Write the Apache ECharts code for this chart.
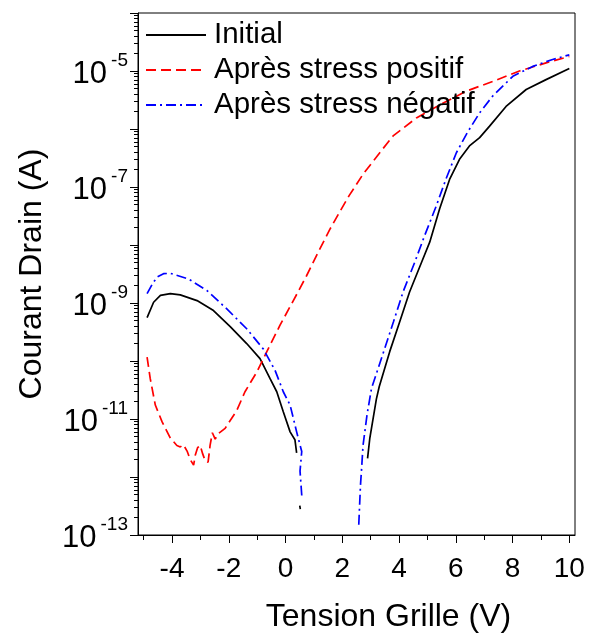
<!DOCTYPE html>
<html>
<head>
<meta charset="utf-8">
<script src="https://cdn.jsdelivr.net/npm/echarts@6/dist/echarts.min.js"></script>
<style>
  html, body { margin: 0; padding: 0; background: #fff; }
  #chart { width: 595px; height: 638px; }
</style>
</head>
<body>
<div id="chart"></div>
<script>
// gate voltage (V) / drain current (A), '-' breaks the line
const initialVg = [-4.88, -4.65, -4.41, -4.06, -3.71, -3.12, -2.54, -1.95, -1.37, -0.90, -0.55, -0.31, -0.08, 0.16, 0.33, 0.39, 0.45,
  0.50, 0.52, 0.60,
  2.89, 2.97, 3.20, 3.30, 3.67, 4.02, 4.37, 4.79, 5.08, 5.43, 5.78, 6.13, 6.48, 6.84, 7.19, 7.77, 8.48, 9.18, 10.0];
const initialId = [5.6e-10, 1.03e-9, 1.35e-9, 1.45e-9, 1.38e-9, 1.1e-9, 7.4e-10, 3.9e-10, 2.0e-10, 1.1e-10, 5.0e-11, 2.95e-11, 1.33e-11, 6.0e-12, 4.4e-12, 2.6e-12, '-',
  3.2e-13, 2.8e-13, '-',
  2.1e-12, 4.7e-12, 2.2e-11, 3.6e-11, 1.45e-10, 4.7e-10, 1.55e-9, 5.0e-9, 1.12e-8, 4.2e-8, 1.35e-7, 3.0e-7, 5.1e-7, 7.1e-7, 1.12e-6, 2.45e-6, 4.8e-6, 7.1e-6, 1.1e-5];

const positifVg = [-4.88, -4.77, -4.59, -4.35, -4.06, -3.83, -3.71, -3.60, -3.47, -3.36, -3.24, -3.18, -3.10, -3.01, -2.92, -2.83, -2.73, -2.66, -2.58, -2.48, -2.37,
  -2.13, -1.72, -1.43, -1.01, -0.66, -0.20, 0.39, 0.74, 1.15, 1.56, 1.97, 2.24, 2.73, 3.32, 3.79, 4.61, 5.43, 6.37, 7.30, 8.24, 9.18, 10.0];
const positifId = [1.17e-10, 5.0e-11, 1.74e-11, 8.9e-12, 4.7e-12, 3.5e-12, 3.3e-12, 3.6e-12, 2.8e-12, 2.0e-12, 1.6e-12, 2.4e-12, 3.2e-12, 3.5e-12, 2.5e-12, 1.9e-12, 1.8e-12, 3.5e-12, 5.8e-12, 4.5e-12, 5.6e-12,
  6.9e-12, 1.4e-11, 2.95e-11, 6.5e-11, 1.45e-10, 4.1e-10, 1.4e-9, 2.95e-9, 7.5e-9, 1.86e-8, 4.2e-8, 7.1e-8, 1.66e-7, 3.9e-7, 7.6e-7, 1.55e-6, 2.6e-6, 4.5e-6, 6.6e-6, 1.0e-5, 1.38e-5, 1.78e-5];

const negatifVg = [-4.88, -4.70, -4.53, -4.30, -4.06, -3.42, -2.77, -2.07, -1.37, -0.78, -0.37, -0.08, 0.16, 0.39, 0.57, 0.51, 0.57, 0.57, 1.0,
  2.58, 2.64, 2.68, 2.73, 2.87, 3.03, 3.26, 3.80, 4.14, 4.55, 4.90, 5.31, 5.66, 6.02, 6.42, 6.84, 7.30, 8.01, 8.71, 9.41, 10.0];
const negatifId = [1.45e-9, 2.1e-9, 2.8e-9, 3.2e-9, 3.25e-9, 2.6e-9, 1.64e-9, 7.9e-10, 3.6e-10, 1.6e-10, 6.9e-11, 2.95e-11, 1.74e-11, 6.0e-12, 2.75e-12, 1.26e-12, 4.9e-13, 4.2e-13, '-',
  1.5e-13, 7.2e-13, 1.4e-12, 3.5e-12, 1.17e-11, 3.4e-11, 7.4e-11, 4.7e-10, 1.55e-9, 5.0e-9, 1.45e-8, 4.7e-8, 1.4e-7, 3.9e-7, 8.9e-7, 1.9e-6, 3.7e-6, 8.1e-6, 1.2e-5, 1.58e-5, 1.9e-5];

const seriesNames = ['Initial', 'Après stress positif', 'Après stress négatif'];

const xMajor = [-4, -2, 0, 2, 4, 6, 8, 10];
const xMinor = [-5, -3, -1, 1, 3, 5, 7, 9];
const yLabelExp = [-13, -11, -9, -7, -5];
const yDecadeExp = [-13, -12, -11, -10, -9, -8, -7, -6, -5, -4];

const pairs = (xs, ys) => xs.map((x, i) => [x, ys[i]]);

const yMajorVals = yDecadeExp.map(e => Math.pow(10, e));
const yMinorVals = [];
yDecadeExp.slice(0, -1).forEach(e => {
  for (let k = 2; k <= 9; k++) yMinorVals.push(k * Math.pow(10, e));
});

const font = 'Liberation Sans, Arial, sans-serif';
const chart = echarts.init(document.getElementById('chart'));

chart.setOption({
  animation: false,
  backgroundColor: '#fff',
  grid: { left: 138, right: 20, top: 13, bottom: 101, show: true, borderColor: '#000', borderWidth: 1 },
  legend: {
    orient: 'vertical',
    left: 140,
    top: 15,
    itemWidth: 60,
    itemHeight: 14,
    itemGap: 5,
    data: seriesNames,
    itemStyle: { opacity: 0 },
    textStyle: { fontFamily: font, fontSize: 29.5, color: '#000', lineHeight: 30, padding: [0, 0, 0, 3] }
  },
  xAxis: [{
    type: 'value',
    min: -5.2,
    max: 10.2,
    name: 'Tension Grille (V)',
    nameLocation: 'middle',
    nameGap: 66,
    nameTextStyle: { fontFamily: font, fontSize: 32, color: '#000', padding: [0, 0, 0, 64] },
    axisLine: { show: true, onZero: false, lineStyle: { color: '#000', width: 1 } },
    axisTick: { show: true, inside: false, length: 8, customValues: xMajor, lineStyle: { color: '#000' } },
    axisLabel: { customValues: xMajor, margin: 20, fontFamily: font, fontSize: 28, color: '#000' },
    splitLine: { show: false }
  }, {
    type: 'value',
    min: -5.2,
    max: 10.2,
    position: 'bottom',
    axisLine: { show: false, onZero: false },
    axisTick: { show: true, inside: false, length: 5, customValues: xMinor, lineStyle: { color: '#000' } },
    axisLabel: { show: false },
    splitLine: { show: false }
  }],
  yAxis: [{
    type: 'log',
    logBase: 10,
    min: 1e-13,
    max: 1e-4,
    name: 'Courant Drain (A)',
    nameLocation: 'middle',
    nameGap: 90,
    nameTextStyle: { fontFamily: font, fontSize: 32, color: '#000' },
    axisLine: { show: true, onZero: false, lineStyle: { color: '#000', width: 1 } },
    axisTick: { show: true, inside: false, length: 8, customValues: yMajorVals, lineStyle: { color: '#000' } },
    axisLabel: {
      customValues: yLabelExp.map(e => Math.pow(10, e)),
      margin: 10,
      formatter: v => '{b|10}{e|' + Math.round(Math.log10(v)) + '}',
      rich: {
        b: { fontFamily: font, fontSize: 31, color: '#000', padding: [6, 0, 0, 0] },
        e: { fontFamily: font, fontSize: 19, color: '#000', padding: [0, 0, 20, 4] }
      }
    },
    splitLine: { show: false }
  }, {
    type: 'log',
    logBase: 10,
    min: 1e-13,
    max: 1e-4,
    position: 'left',
    axisLine: { show: false, onZero: false },
    axisTick: { show: true, inside: false, length: 4, customValues: yMinorVals, lineStyle: { color: '#000' } },
    axisLabel: { show: false },
    splitLine: { show: false }
  }],
  series: [{
    name: seriesNames[0],
    type: 'line',
    data: pairs(initialVg, initialId),
    symbol: 'none',
    connectNulls: false,
    color: '#000000',
    lineStyle: { color: '#000000', width: 1.7, type: 'solid' }
  }, {
    name: seriesNames[1],
    type: 'line',
    data: pairs(positifVg, positifId),
    symbol: 'none',
    color: '#ff0000',
    lineStyle: { color: '#ff0000', width: 1.7, type: [10, 5] }
  }, {
    name: seriesNames[2],
    type: 'line',
    data: pairs(negatifVg, negatifId),
    symbol: 'none',
    connectNulls: false,
    color: '#0000ff',
    lineStyle: { color: '#0000ff', width: 1.7, type: [10, 4, 2, 4] }
  }]
});
</script>
</body>
</html>
